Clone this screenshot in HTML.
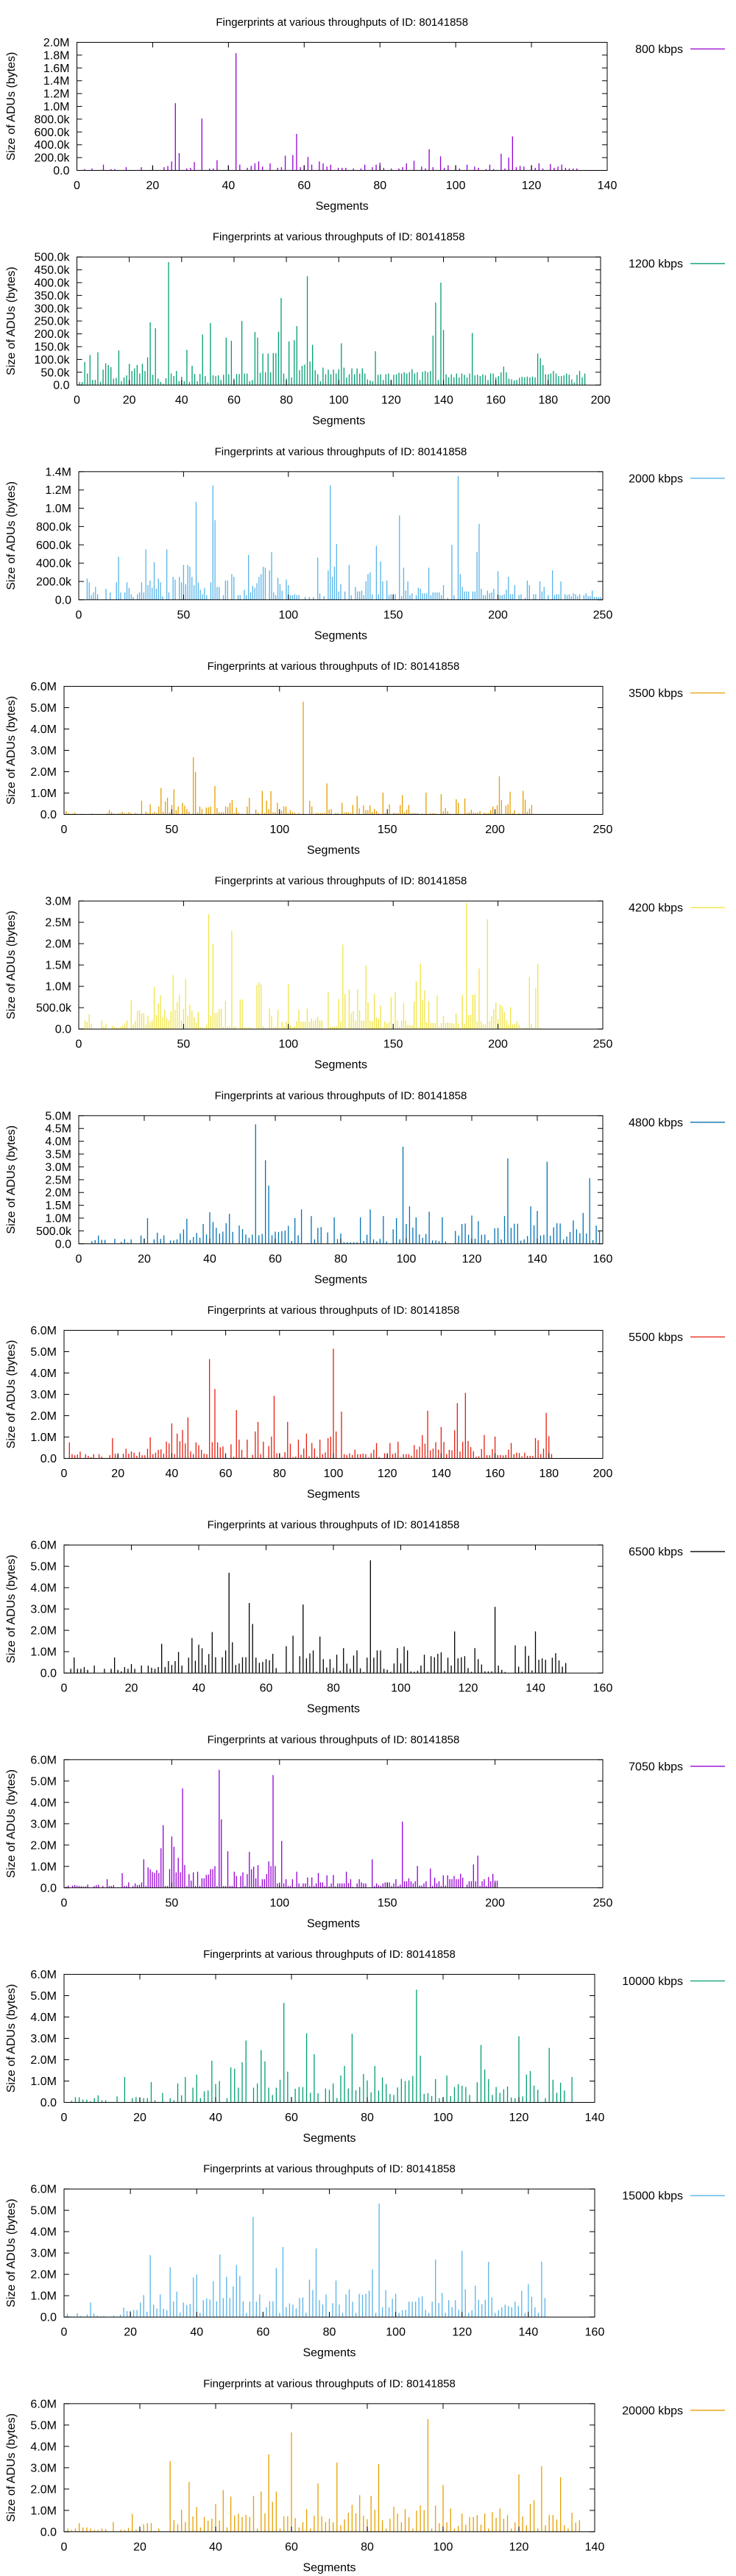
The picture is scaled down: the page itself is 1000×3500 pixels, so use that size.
<!DOCTYPE html>
<html>
<head>
<meta charset="utf-8">
<style>
html,body{margin:0;padding:0;background:#fff;}
svg{display:block;}
text{font-family:"Liberation Sans",sans-serif;fill:#000;}
</style>
</head>
<body>
<svg id="chart" width="1000" height="3500" viewBox="0 0 1000 3500" xmlns="http://www.w3.org/2000/svg"></svg>
<script>
// ---- data (sizes in kilobytes) ----
const p1Segs=[2,4,7,9,10,13,17,20,23,24,25,26,27,29,30,31,33,35,36,37,40,42,43,45,46,47,48,49,51,53,54,55,57,58,59,60,61,62,64,65,66,67,69,70,71,73,75,76,78,79,80,81,83,85,86,87,89,91,92,93,94,96,97,98,100,101,103,105,106,108,109,110,112,113,114,115,116,117,118,120,121,122,123,125,126,127,128,129,130,131,132];
const p1Sizes=[20,30,90,20,20,50,50,70,50,70,140,1050,270,30,40,130,810,30,30,160,80,1830,90,40,70,110,140,60,110,40,50,230,240,570,50,80,210,90,140,110,60,90,40,40,40,30,30,90,50,90,120,40,30,30,50,110,150,60,30,330,50,220,40,80,80,30,90,60,40,20,90,20,260,30,200,530,50,70,60,80,40,110,30,100,40,60,90,40,30,30,30];

const p2Sizes=[12,12,90,45,117,20,20,128,12,60,85,78,70,25,28,135,15,30,38,83,55,65,78,45,83,55,108,245,40,222,25,12,5,27,480,45,35,55,15,32,15,137,12,75,43,15,43,197,35,10,242,38,35,38,20,40,185,42,173,25,43,43,250,45,45,15,20,207,185,48,123,50,123,50,125,125,208,340,45,25,170,30,175,230,58,75,80,425,92,157,58,42,15,68,42,60,42,60,45,62,163,68,30,42,65,42,65,45,65,45,22,18,15,132,40,42,20,42,45,20,40,42,48,45,50,45,50,62,45,50,20,52,55,50,55,193,322,20,400,215,42,30,42,30,45,30,45,40,30,45,203,38,40,35,42,38,20,45,45,30,35,50,72,50,25,22,18,20,28,32,30,33,30,33,30,123,105,78,42,42,45,55,45,35,35,38,45,40,22,10,40,55,30,45];
const p2Segs=p2Sizes.map((v,i)=>i+1);

const p3Segs=[4,5,6,7,8,9,13,15,18,19,20,22,23,24,25,26,28,29,30,31,32,33,34,35,36,37,38,39,40,42,43,45,46,48,49,50,51,52,53,54,55,56,57,58,59,60,61,63,64,65,66,67,69,70,71,73,74,76,77,79,80,81,82,83,84,85,86,87,88,89,91,92,93,94,95,96,97,99,100,101,102,103,104,105,108,110,112,114,115,117,119,120,121,122,123,124,125,127,129,130,132,133,134,135,136,137,138,139,140,142,143,144,145,147,148,149,150,151,153,154,155,156,157,158,159,161,162,163,164,165,166,167,168,169,170,171,172,173,174,176,178,179,181,182,183,184,185,186,188,189,190,191,192,193,194,195,196,197,198,200,201,202,203,204,205,206,207,208,210,211,213,214,215,217,218,220,221,222,224,226,227,228,229,230,232,233,234,235,236,237,238,239,241,242,243,244,245,246,247,248,249];
const p3Sizes=[230,190,50,80,140,60,120,80,190,470,80,80,190,130,60,30,60,80,190,80,550,160,210,130,410,120,230,190,40,550,80,250,220,250,190,380,170,380,360,250,160,1070,190,110,60,130,50,190,1250,870,140,140,50,210,210,280,250,50,50,110,50,490,80,150,130,180,250,280,360,350,320,520,80,50,240,170,100,220,160,50,50,60,50,50,30,30,30,460,70,40,320,1250,250,360,610,90,170,90,380,50,140,90,90,100,50,200,280,300,60,590,60,420,200,210,50,60,60,60,920,40,350,100,200,50,70,50,130,120,70,70,70,350,50,80,80,80,80,50,160,20,600,50,1350,280,140,90,90,90,90,90,520,830,120,50,50,100,70,80,120,310,50,50,60,110,250,60,60,160,50,60,20,210,160,60,60,200,90,140,50,320,50,60,60,200,60,50,60,40,70,60,40,60,50,70,40,40,100,30,30,30,30];

const p4Segs=[1,2,4,5,8,13,15,16,17,18,20,21,22,23,24,25,26,27,28,29,30,31,32,33,34,36,37,38,39,40,41,42,43,44,45,46,47,48,49,50,51,52,53,55,56,57,58,60,61,62,63,64,66,67,68,70,71,72,73,74,75,76,77,78,79,80,81,83,85,86,89,90,92,93,94,95,96,97,98,99,100,101,102,103,104,105,106,107,109,111,112,114,115,117,118,119,120,121,122,123,124,126,127,129,130,131,132,133,134,136,137,139,140,141,142,143,144,145,146,148,149,151,153,154,155,156,157,158,159,160,161,162,163,164,166,168,169,170,171,172,175,176,177,178,179,182,183,186,187,188,189,190,191,192,193,195,196,197,198,199,200,201,202,203,205,206,207,208,209,211,213,214,215,216,217];
const p4Sizes=[160,60,40,90,30,40,20,20,20,20,50,200,100,50,20,40,60,120,60,40,100,60,20,70,40,640,20,130,60,470,60,120,60,370,1240,120,610,780,100,440,1170,200,370,540,410,250,120,2680,1990,100,370,250,320,330,370,1330,300,100,100,100,370,340,540,680,60,320,80,20,370,780,230,80,1100,60,640,240,1090,100,100,540,50,180,370,370,60,200,100,80,60,5280,20,640,370,60,60,60,60,60,1450,220,250,60,60,540,80,100,100,60,440,860,280,420,200,200,420,120,260,160,60,1020,60,470,80,60,60,440,900,100,220,440,60,60,60,60,40,1020,20,50,50,50,950,150,300,150,30,710,550,750,60,100,220,80,80,80,150,80,60,60,200,370,60,420,1790,670,410,470,1060,50,200,50,1100,690,130,270,440];

const p5Segs=[2,3,4,5,6,11,12,13,16,17,18,19,20,21,22,23,25,26,27,28,29,30,31,32,33,34,35,36,37,38,39,40,41,42,43,44,45,46,47,48,49,50,51,52,53,54,55,56,57,58,59,60,61,62,63,64,65,66,67,68,69,70,71,72,73,74,75,77,78,79,80,81,82,85,86,87,88,89,90,91,92,93,94,95,96,97,98,99,100,101,102,103,104,105,106,107,108,109,110,111,112,113,114,115,116,119,120,121,122,123,124,125,126,127,128,129,130,131,132,133,134,135,136,137,138,139,140,141,142,143,144,145,146,147,148,149,150,151,152,153,154,155,156,157,158,159,160,161,162,163,164,165,166,167,168,169,170,171,172,173,174,175,176,177,178,179,180,181,182,183,184,185,186,187,188,189,190,191,192,193,194,195,196,197,198,199,200,201,202,203,204,205,206,207,208,209,210,211,212,213,214,215,216,217,218,219,220];
const p5Sizes=[20,200,170,350,130,200,60,120,80,50,30,20,50,80,130,200,670,110,190,420,440,360,370,110,310,160,200,990,330,600,790,280,450,260,200,410,1260,440,630,800,200,470,1180,310,570,430,280,150,400,50,30,20,100,2690,310,2000,380,380,470,470,50,660,50,60,2300,60,50,690,690,30,30,30,30,1030,1100,1050,60,30,30,480,310,40,50,450,30,160,60,170,1050,90,40,60,180,450,170,170,170,480,170,250,180,220,290,200,200,860,50,50,60,60,700,180,1980,820,20,930,370,420,200,930,440,200,200,1490,630,200,180,820,270,240,550,40,180,130,150,750,30,860,200,50,200,610,200,100,90,90,650,1120,30,1530,690,910,160,650,140,140,140,790,50,140,310,140,160,140,140,120,370,130,20,800,130,2950,330,330,800,820,180,1420,180,110,110,2570,180,300,470,620,220,570,530,400,200,100,510,110,120,180,100,20,20,30,30,1220,120,20,960,1530,30];

const p6Segs=[1,4,5,6,7,8,11,13,14,15,16,19,20,21,23,24,25,26,28,29,30,31,32,33,34,35,36,37,38,39,40,41,42,43,44,45,46,47,49,50,51,52,53,54,55,56,57,58,59,60,61,62,63,64,65,66,67,68,69,70,71,72,73,74,76,78,79,80,81,82,83,84,85,86,87,88,89,90,91,92,93,94,96,97,98,99,100,101,102,103,104,105,106,107,108,109,110,111,112,115,116,117,118,119,120,121,122,123,124,125,127,128,129,130,131,132,133,134,135,136,137,138,139,140,141,142,143,144,145,146,147,148,149,150,151,152,153,154,155,156,157,158,159];
const p6Sizes=[10,100,140,320,150,150,190,70,180,40,170,320,200,1000,170,430,190,330,130,130,170,400,560,970,150,260,420,230,770,360,1230,850,620,400,470,800,1170,460,710,570,360,230,360,4660,330,380,3260,2270,330,470,460,490,510,700,110,1000,330,1340,20,30,1080,170,620,650,440,1030,180,400,60,60,60,60,60,1030,110,350,1340,170,90,190,1080,90,560,1000,170,3790,770,1460,630,1030,360,230,380,1250,130,130,100,1030,90,500,320,770,790,350,1100,200,880,350,360,140,600,620,170,1080,3330,620,780,780,120,170,300,1460,720,1280,320,350,3200,310,640,800,790,170,280,460,910,560,410,1200,400,2560,140,710,480,100];

const p7Segs=[2,3,4,5,6,8,9,10,11,13,14,17,18,19,20,22,23,24,25,26,27,28,29,30,31,32,33,34,35,36,37,38,39,40,41,42,43,44,45,46,47,48,49,50,51,52,53,54,55,56,57,58,59,60,62,63,64,65,66,67,68,70,71,72,73,74,76,77,78,79,80,81,82,83,84,85,86,87,88,89,90,91,92,93,94,95,96,97,98,99,100,101,103,104,105,106,107,108,109,110,111,112,113,114,115,116,117,119,120,121,122,123,124,125,126,127,128,129,130,131,132,133,134,135,136,137,138,139,140,141,142,143,144,145,146,147,148,149,150,151,152,153,154,155,156,157,158,159,160,161,162,163,164,165,166,167,168,169,170,171,172,173,174,175,176,177,178,179,180,181];
const p7Sizes=[750,200,150,180,320,200,120,60,200,200,80,150,950,220,180,220,450,220,330,270,120,300,150,150,450,990,200,270,400,420,220,780,700,1640,200,1160,800,1330,700,1920,330,200,750,620,400,220,200,4650,760,3250,750,520,560,50,660,80,2260,880,400,50,880,160,1260,1710,200,780,580,1020,2930,240,240,50,290,1710,690,60,80,880,170,460,1160,100,720,460,80,880,200,280,950,1020,5140,1260,2190,200,160,240,160,410,200,200,220,200,40,240,410,720,60,240,200,720,200,250,780,40,200,200,200,130,620,420,550,1090,690,2230,380,460,760,410,1470,770,200,400,380,1320,2590,320,780,3070,820,530,330,80,100,440,1100,150,150,430,1020,160,160,140,160,410,720,200,270,250,100,270,120,120,120,950,850,200,460,2130,1040,200];

const p8Segs=[2,3,4,5,6,7,9,12,14,15,16,17,18,19,20,21,23,25,26,27,28,29,30,31,32,33,34,35,37,38,39,40,41,42,43,44,45,47,48,49,50,51,52,53,54,55,56,57,58,59,60,61,62,63,66,67,68,70,71,72,73,74,75,76,77,78,79,80,81,82,83,84,85,86,87,88,89,90,91,92,93,94,95,96,97,98,99,100,101,102,103,104,105,106,107,108,109,110,111,112,113,114,115,116,117,118,119,120,121,122,123,124,125,126,127,128,129,130,131,134,135,136,137,138,139,140,141,142,143,145,146,147,148,149];
const p8Sizes=[200,730,200,200,280,150,350,200,200,730,150,80,280,200,420,200,350,350,250,200,280,1370,280,560,380,560,990,350,720,1640,580,1330,1160,380,890,1920,740,740,1060,4700,1440,380,450,740,740,3280,2300,720,480,520,650,600,900,230,1260,60,1750,790,3210,690,920,1060,60,1710,650,260,650,100,860,100,1170,440,200,820,1060,220,50,720,5280,720,1060,1060,200,150,60,450,1170,450,1240,1060,80,60,100,350,860,60,790,740,900,970,100,720,350,1950,690,740,790,200,60,1170,650,400,80,80,80,3100,350,150,50,1300,300,60,1260,810,120,1950,620,690,620,720,930,590,300,470];

const p9Segs=[1,2,4,5,6,7,8,9,10,11,14,15,16,18,20,21,22,23,25,27,28,29,30,32,33,34,35,36,37,38,39,40,41,42,43,44,45,46,47,48,49,50,51,52,53,54,55,56,57,58,59,60,61,62,63,64,65,66,67,68,69,70,71,72,73,74,75,76,77,78,79,80,82,83,84,85,86,87,88,89,90,91,92,93,94,95,96,97,98,99,100,101,102,103,104,105,106,107,108,109,110,111,112,113,114,115,116,117,118,119,120,121,122,123,124,125,126,127,128,129,130,131,132,133,134,136,137,138,139,140,143,144,145,146,147,148,149,150,151,152,153,154,155,156,157,158,159,160,161,162,163,164,165,166,167,168,170,171,172,173,174,175,176,177,178,179,180,181,182,183,184,185,187,188,189,190,191,192,193,194,195,196,197,198,199,200,201];
const p9Sizes=[50,100,100,130,90,80,70,50,60,150,80,120,140,80,400,80,80,120,20,680,80,80,250,80,200,120,140,250,1330,80,950,860,740,690,820,690,1850,2930,80,80,870,2400,1920,720,1400,720,4650,1060,80,640,330,720,80,750,80,440,440,600,620,870,870,1010,80,5520,3200,80,80,1710,80,80,750,550,550,720,80,640,1680,870,990,440,1060,80,400,400,640,1230,1020,5280,1020,200,100,2190,200,400,80,80,400,40,750,200,60,200,200,480,80,480,80,200,690,250,250,80,580,60,200,600,60,200,200,200,200,750,220,400,40,200,400,250,200,200,1330,80,200,120,80,200,250,250,250,80,200,400,80,150,3100,300,300,440,300,200,300,1020,100,100,200,300,900,80,470,200,300,80,580,100,580,400,400,550,400,400,650,470,150,300,300,1090,300,1500,80,300,400,80,500,300,650,330,330];

const p10Segs=[1,2,3,4,5,6,7,8,9,10,11,14,16,18,19,20,21,22,23,24,26,28,29,30,31,32,34,35,36,37,38,39,40,41,43,44,45,46,47,48,50,51,52,53,54,55,56,57,58,59,60,61,62,63,64,65,66,67,69,70,71,72,73,74,75,76,77,78,79,80,81,82,83,84,85,86,87,88,89,90,91,92,93,94,95,96,97,98,99,100,101,102,103,104,105,106,107,109,110,111,112,113,114,115,116,117,118,119,120,121,122,123,124,125,126,127,128,129,130,131,132,133,134];
const p10Sizes=[20,80,240,240,130,130,50,200,330,100,100,280,1190,200,250,200,200,200,950,100,440,200,100,890,330,1190,690,1300,200,520,560,1950,860,1000,200,1640,1580,690,1880,2900,690,890,2450,1920,690,350,690,1060,4660,1440,250,640,720,720,3240,450,2260,430,650,590,890,200,1260,1710,650,3210,570,720,1330,1030,470,1710,560,1170,860,400,350,700,1100,1000,1030,1230,5280,2190,400,430,300,1090,200,250,1260,300,720,860,780,720,350,940,2690,1540,1090,350,720,450,620,750,230,200,3100,280,1300,1470,790,590,20,200,2550,1060,450,920,560,20,1190];

const p11Segs=[1,2,3,4,5,7,8,9,10,11,12,15,17,18,19,20,21,22,23,24,25,26,27,28,29,30,31,32,33,34,35,36,37,38,39,40,41,42,43,44,45,46,47,48,49,50,51,52,53,54,55,56,57,58,59,60,61,62,63,64,65,66,67,68,69,70,71,72,73,74,75,76,77,78,79,80,81,82,83,84,85,86,87,88,89,90,91,92,93,94,95,96,97,98,99,100,101,102,103,104,105,106,107,108,109,110,111,112,113,114,115,116,117,118,119,120,121,122,123,124,125,126,127,128,129,130,131,132,133,134,135,136,137,138,139,140,141,142,143,144,145];
const p11Sizes=[150,50,30,180,50,120,680,160,60,30,50,60,110,440,280,290,330,330,680,1030,250,2900,580,400,1060,390,330,2330,730,1190,210,680,560,620,1850,1990,200,790,870,820,1680,740,2930,890,1880,890,1440,2440,1920,740,200,720,4690,720,1060,250,460,740,740,2300,200,3280,460,640,580,410,890,920,200,1750,1260,3210,790,590,1060,20,650,1710,590,200,1060,1300,720,200,1090,1040,1090,1240,2230,200,5310,460,1260,460,860,1090,200,320,340,720,720,720,920,970,340,200,720,2690,660,1130,200,790,460,790,340,3100,1300,200,320,1470,810,600,810,2590,920,200,320,460,580,520,460,720,520,1230,200,1540,950,460,200,2590,890];

const p12Segs=[1,2,3,4,5,6,7,8,9,10,11,13,15,16,17,18,19,20,21,22,23,24,25,27,28,29,30,31,32,33,34,35,36,37,38,39,40,41,42,43,44,45,46,47,48,49,50,51,52,53,54,55,56,57,58,59,60,61,62,63,64,65,66,67,68,69,70,71,72,73,74,75,76,77,78,79,80,81,82,83,84,85,86,87,88,89,90,91,92,93,94,95,96,97,98,99,100,101,102,103,104,105,106,107,108,109,110,111,112,113,114,115,116,117,118,119,120,121,122,123,124,125,126,127,128,129,130,131,132,133,134,135,136];
const p12Sizes=[150,80,150,400,200,200,150,80,80,150,120,450,100,80,180,830,100,120,350,400,400,40,150,20,3310,540,350,1030,450,2330,720,1160,200,690,520,610,1300,520,1950,200,1640,750,850,690,790,690,1680,150,1880,850,3620,1400,1880,150,720,720,4660,640,200,450,1060,150,750,2260,720,450,610,440,3240,300,580,890,1260,860,1710,740,580,1680,1030,3170,540,150,610,1170,850,440,1060,680,150,990,1230,1020,5280,150,1230,400,2190,440,1090,150,270,850,330,690,690,780,330,850,150,920,650,1090,610,780,150,440,2690,720,300,1300,1470,150,3070,300,780,780,570,2550,300,150,890,430,540];

const rateLabels=["800 kbps","1200 kbps","2000 kbps","3500 kbps","4200 kbps","4800 kbps","5500 kbps","6500 kbps","7050 kbps","10000 kbps","15000 kbps","20000 kbps"];
const yMaxes=[2000000,500000,1400000,6000000,3000000,5000000,6000000,6000000,6000000,6000000,6000000,6000000];
const yStepsK=[200000,50000,200000,1000000,500000,500000,1000000,1000000,1000000,1000000,1000000,1000000];
const xMaxes=[140,200,250,250,250,160,200,160,250,140,160,140];
const xSteps=[20,20,50,50,50,20,20,20,50,20,20,20];

// ---- layout / style ----
const allSegs=[p1Segs,p2Segs,p3Segs,p4Segs,p5Segs,p6Segs,p7Segs,p8Segs,p9Segs,p10Segs,p11Segs,p12Segs];
const allSizes=[p1Sizes,p2Sizes,p3Sizes,p4Sizes,p5Sizes,p6Sizes,p7Sizes,p8Sizes,p9Sizes,p10Sizes,p11Sizes,p12Sizes];
const colors=["#9400d3","#009e73","#56b4e9","#e69f00","#f0e442","#0072b2","#e51e10","#000000","#9400d3","#009e73","#56b4e9","#e69f00"];
const lefts=[104.5,104.5,107,87,107,107,87,87,87,87,87,87];
const rights=[825,816,819,819,819,819,819,819,819,808,808,808];
const PERIOD=3500/12, TOP=57.5, BOT=231.5, TICK=7;
const NS="http://www.w3.org/2000/svg";
const svg=document.getElementById("chart");

function mk(tag,attrs,parent){
  const e=document.createElementNS(NS,tag);
  for(const k in attrs) e.setAttribute(k,attrs[k]);
  parent.appendChild(e);
  return e;
}
function fmt(v){
  if(v===0) return "0.0";
  if(v<1000000) return (v/1000).toFixed(1)+"k";
  return (v/1000000).toFixed(1)+"M";
}

for(let p=0;p<12;p++){
  const off=p*PERIOD, L=lefts[p], R=rights[p];
  const top=off+TOP, bot=off+BOT;
  const g=mk("g",{},svg);
  
  
  const xScale=s=>L+(s/xMaxes[p])*(R-L);
  const yScale=v=>bot-(v/yMaxes[p])*(bot-top);

  const title=mk("text",{x:(L+R)/2,y:off+35,"text-anchor":"middle","font-size":"15"},g);
  title.textContent="Fingerprints at various throughputs of ID: 80141858";
  
  

  const bars=mk("g",{stroke:colors[p],"stroke-width":"1.3"},g);
  
  
  const segs=allSegs[p], sizes=allSizes[p];
  for(let i=0;i<segs.length;i++){
    const x=xScale(segs[i]);
    const b=mk("line",{x1:x,x2:x,y1:bot,y2:yScale(sizes[i]*1000)},bars);
    
    
  }

  const fr=mk("rect",{x:L,y:top,width:R-L,height:bot-top,fill:"none",stroke:"#000","stroke-width":"1"},g);
  
  

  for(let v=0;v<=yMaxes[p]+1;v+=yStepsK[p]){
    const y=yScale(v);
    const t=mk("path",{d:`M${L} ${y}h${TICK}M${R} ${y}h${-TICK}`,stroke:"#000","stroke-width":"1"},g);
    
    
    const lb=mk("text",{x:L-10,y:y+5.5,"text-anchor":"end","font-size":"16"},g);
    lb.textContent=fmt(v);
    
    
  }
  for(let s=0;s<=xMaxes[p];s+=xSteps[p]){
    const x=xScale(s);
    const t=mk("path",{d:`M${x} ${bot}v${-TICK}M${x} ${top}v${TICK}`,stroke:"#000","stroke-width":"1"},g);
    
    
    const lb=mk("text",{x:x,y:off+257,"text-anchor":"middle","font-size":"16"},g);
    lb.textContent=String(s);
    
    
  }
  const xt=mk("text",{x:(L+R)/2,y:off+285,"text-anchor":"middle","font-size":"16"},g);
  xt.textContent="Segments";
  
  

  const cy=(top+bot)/2;
  const yt=mk("text",{x:0,y:0,"text-anchor":"middle","font-size":"16",transform:`translate(20 ${cy}) rotate(-90)`},g);
  yt.textContent="Size of ADUs (bytes)";
  
  

  const lg=mk("g",{},g);
  
  
  const lt=mk("text",{x:928,y:off+72,"text-anchor":"end","font-size":"16"},lg);
  lt.textContent=rateLabels[p];
  
  
  const ll=mk("line",{x1:938,x2:985,y1:off+66.5,y2:off+66.5,stroke:colors[p],"stroke-width":"1.3"},lg);
  
  
}
</script>
</body>
</html>
